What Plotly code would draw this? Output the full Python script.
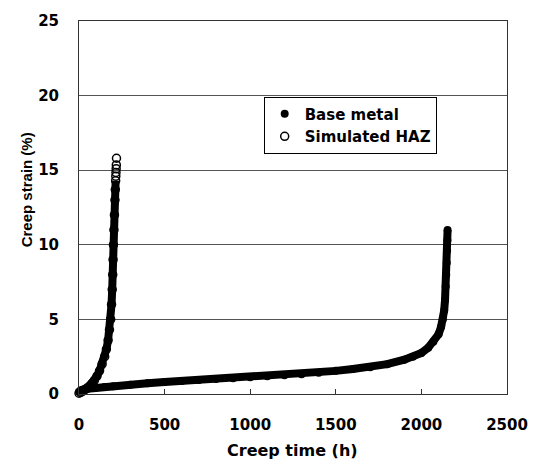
import plotly.graph_objects as go

# Base metal creep curve (h, %)
base_time = [0, 10, 25, 50, 100, 150, 200, 300, 400, 500, 600, 700, 800, 900, 1000,
             1100, 1200, 1300, 1400, 1500, 1600, 1700, 1800, 1900, 1950, 2000, 2040,
             2070, 2100, 2115, 2125, 2133, 2138, 2142, 2145, 2148, 2150, 2152, 2153]
base_strain = [0.15, 0.25, 0.3, 0.35, 0.42, 0.47, 0.52, 0.62, 0.72, 0.8, 0.87, 0.93, 1.0,
               1.06, 1.12, 1.19, 1.26, 1.33, 1.42, 1.55, 1.68, 1.8, 2.0, 2.3, 2.5, 2.75,
               3.1, 3.5, 4.0, 4.5, 5.0, 5.6, 6.3, 7.2, 8.0, 8.8, 9.6, 10.3, 11.0]

# Simulated HAZ creep curve (h, %)
haz_time = [0, 10, 20, 30, 45, 60, 75, 90, 105, 120, 135, 150, 160, 170, 178, 185, 190,
            194, 197, 199, 201, 204, 207, 210, 212, 214, 215, 216, 217, 218, 219]
haz_strain = [0.05, 0.1, 0.18, 0.25, 0.38, 0.52, 0.7, 0.92, 1.2, 1.55, 2.0, 2.5, 3.0, 3.6,
              4.3, 5.0, 6.0, 7.0, 8.0, 9.0, 10.0, 11.0, 12.0, 13.0, 13.7, 14.3, 14.6,
              14.85, 15.1, 15.35, 15.8]

x_ticks = [0, 500, 1000, 1500, 2000, 2500]
y_ticks = [0, 5, 10, 15, 20, 25]

FONT = "DejaVu Sans"
W, H = 540, 465
L, R, T, B = 79, 23, 19, 71
pw, ph = W - L - R, H - T - B

fig = go.Figure()

# dense band (thick line under the markers)
fig.add_trace(go.Scatter(x=haz_time[:-5], y=haz_strain[:-5], mode="lines",
                         line=dict(color="black", width=8), showlegend=False,
                         hoverinfo="skip", cliponaxis=False))
fig.add_trace(go.Scatter(x=base_time, y=base_strain, mode="lines",
                         line=dict(color="black", width=8), showlegend=False,
                         hoverinfo="skip", cliponaxis=False))

fig.add_trace(go.Scatter(x=base_time, y=base_strain, mode="markers", name="Base metal",
                         marker=dict(symbol="circle", size=8, color="black"),
                         cliponaxis=False))
fig.add_trace(go.Scatter(x=haz_time, y=haz_strain, mode="markers", name="Simulated HAZ",
                         marker=dict(symbol="circle-open", size=8, color="black",
                                     line=dict(width=1.5, color="black")),
                         cliponaxis=False))

fig.update_layout(
    width=W, height=H,
    margin=dict(l=L, r=R, t=T, b=B),
    paper_bgcolor="white", plot_bgcolor="white",
    font=dict(family=FONT, size=15, color="black", weight="bold"),
    legend=dict(x=(268 - L) / pw, y=(394 - 95) / ph, xanchor="left", yanchor="top",
                bgcolor="white", bordercolor="black", borderwidth=1,
                font=dict(family=FONT, size=15, weight="bold"),
                itemwidth=30, tracegroupgap=0),
    xaxis=dict(range=[0, 2500], tickvals=x_ticks, ticks="inside", ticklen=5,
               tickcolor="#333", showgrid=False, zeroline=False,
               showline=True, linecolor="#333", linewidth=1, mirror=True,
               ticklabelstandoff=17,
               tickfont=dict(family=FONT, size=15, weight="bold")),
    yaxis=dict(range=[0, 25], tickvals=y_ticks, ticks="", showgrid=True,
               gridcolor="#555", gridwidth=1, zeroline=False,
               showline=True, linecolor="#333", linewidth=1, mirror=True,
               ticklabelstandoff=16,
               tickfont=dict(family=FONT, size=15, weight="bold")),
    annotations=[
        dict(text="Creep strain (%)", x=(25 - L) / pw, y=(394 - 189) / ph,
             xref="paper", yref="paper", xanchor="center", yanchor="middle",
             showarrow=False, textangle=-90,
             font=dict(family="Liberation Sans", size=15, weight="bold")),
        dict(text="Creep time (h)", x=(297 - L) / pw, y=(394 - 451) / ph,
             xref="paper", yref="paper", xanchor="center", yanchor="middle",
             showarrow=False,
             font=dict(family=FONT, size=16, weight="bold")),
    ],
)

fig.write_html("out.html")
